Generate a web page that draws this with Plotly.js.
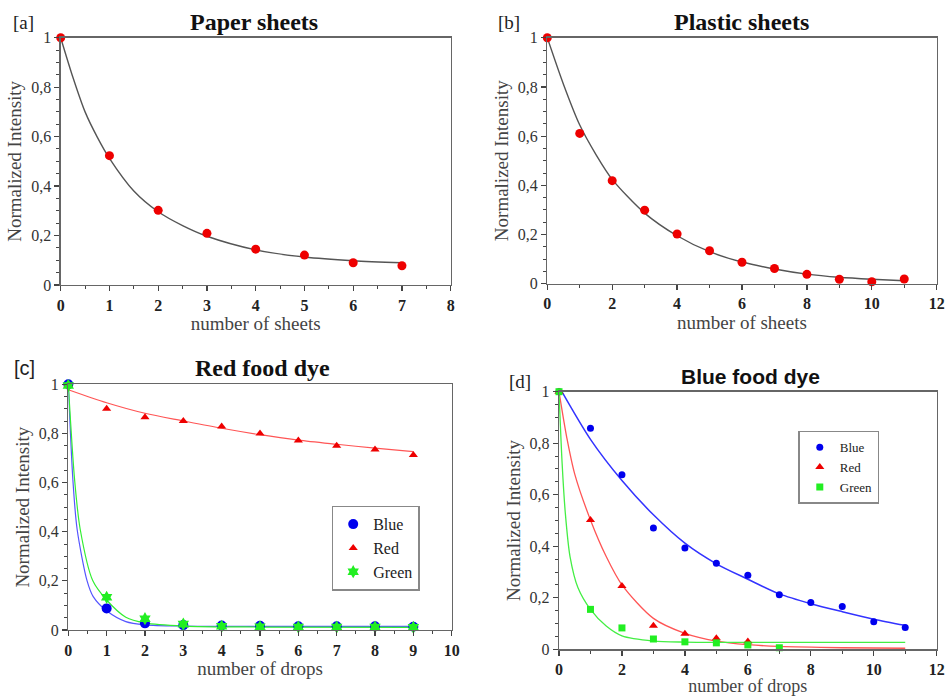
<!DOCTYPE html>
<html>
<head>
<meta charset="utf-8">
<script src="https://cdn.plot.ly/plotly-3.0.1.min.js"></script>
<style>html,body{margin:0;padding:0;background:#fff;}#chart{width:945px;height:696px;}</style>
</head>
<body>
<div id="chart"></div>
<script>
// ---------- data ----------
const panelTitles = ["Paper sheets", "Plastic sheets", "Red food dye", "Blue food dye"];
const panelLabels = ["[a]", "[b]", "[c]", "[d]"];
const seriesNames = ["Blue", "Red", "Green"];

// [a] paper sheets
const paperSheets = [0, 1, 2, 3, 4, 5, 6, 7];
const paperIntensity = [1, 0.523, 0.302, 0.209, 0.145, 0.121, 0.090, 0.078];
const paperFitX = [0, 0.25, 0.5, 0.75, 1, 1.5, 2, 2.5, 3, 4, 5, 6, 7];
const paperFitY = [1, 0.84, 0.70, 0.598, 0.512, 0.38, 0.296, 0.24, 0.197, 0.142, 0.113, 0.098, 0.09];

// [b] plastic sheets
const plasticSheets = [0, 1, 2, 3, 4, 5, 6, 7, 8, 9, 10, 11];
const plasticIntensity = [1, 0.611, 0.419, 0.299, 0.202, 0.134, 0.087, 0.062, 0.038, 0.018, 0.008, 0.019];
const plasticFitX = [0, 0.5, 1, 1.5, 2, 3, 4, 5, 6, 7, 8, 9, 10, 11];
const plasticFitY = [1, 0.81, 0.645, 0.525, 0.424, 0.287, 0.195, 0.13, 0.088, 0.06, 0.039, 0.026, 0.018, 0.012];

// [c] red food dye
const redDyeDrops = [0, 1, 2, 3, 4, 5, 6, 7, 8, 9];
const redDyeBlue = [1, 0.088, 0.027, 0.020, 0.018, 0.017, 0.015, 0.015, 0.015, 0.013];
const redDyeRed = [1, 0.900, 0.866, 0.851, 0.828, 0.800, 0.771, 0.750, 0.735, 0.712];
const redDyeGreen = [0.995, 0.133, 0.046, 0.024, 0.015, 0.013, 0.012, 0.012, 0.012, 0.011];
const redDyeBlueFitX = [0, 0.12, 0.23, 0.49, 0.65, 1, 1.5, 2, 3, 5, 9];
const redDyeBlueFitY = [1, 0.61, 0.41, 0.2, 0.136, 0.078, 0.034, 0.021, 0.016, 0.015, 0.015];
const redDyeRedFitX = [0, 1, 2, 3, 4, 5, 6, 7, 8, 9];
const redDyeRedFitY = [0.978, 0.925, 0.882, 0.851, 0.821, 0.795, 0.773, 0.756, 0.740, 0.726];
const redDyeGreenFitX = [0, 0.165, 0.31, 0.64, 1, 1.5, 2, 3, 5, 9];
const redDyeGreenFitY = [1, 0.61, 0.41, 0.2, 0.122, 0.052, 0.029, 0.016, 0.012, 0.011];

// [d] blue food dye
const blueDyeDrops = [0, 1, 2, 3, 4, 5, 6, 7, 8, 9, 10, 11];
const blueDyeBlue = [1, 0.858, 0.678, 0.471, 0.393, 0.334, 0.287, 0.212, 0.182, 0.166, 0.107, 0.085];
const blueDyeRedDrops = [0, 1, 2, 3, 4, 5, 6];
const blueDyeRed = [1, 0.502, 0.246, 0.091, 0.060, 0.043, 0.030];
const blueDyeGreenDrops = [0, 1, 2, 3, 4, 5, 6, 7];
const blueDyeGreen = [1, 0.155, 0.083, 0.040, 0.029, 0.025, 0.017, 0.006];
const blueDyeBlueFitX = [0, 1, 2, 3, 4, 5, 6, 7, 8, 9, 10, 11];
const blueDyeBlueFitY = [1.02, 0.815, 0.655, 0.522, 0.412, 0.332, 0.272, 0.215, 0.177, 0.146, 0.117, 0.093];
const blueDyeRedFitX = [0, 0.25, 0.5, 1, 1.5, 2, 3, 4, 5, 6, 7, 9, 11];
const blueDyeRedFitY = [1, 0.82, 0.68, 0.502, 0.36, 0.25, 0.12, 0.062, 0.032, 0.018, 0.011, 0.006, 0.004];
const blueDyeGreenFitX = [0, 0.1, 0.2, 0.35, 0.6, 1, 1.5, 2, 3, 4, 6, 11];
const blueDyeGreenFitY = [1, 0.72, 0.53, 0.36, 0.24, 0.155, 0.09, 0.052, 0.032, 0.028, 0.027, 0.027];

const xTicks = {a: [0, 8, 1], b: [0, 12, 2], c: [0, 10, 1], d: [0, 12, 2]};

// ---------- styles ----------
const SERIF = "Liberation Serif, Times New Roman, serif";
const SANS = "Liberation Sans, Arial, sans-serif";
const cRed = "#ee0000", cBlue = "#0000ee", cGreen = "#22ee22";

function xaxisCfg(dom, anchor, t, titleText, tsize, stand) {
  return {
    domain: dom, anchor: anchor, range: [t[0], t[1]], dtick: t[2], tick0: 0,
    showgrid: false, zeroline: false, showline: true, mirror: true,
    linecolor: "#666", linewidth: 1.3,
    ticks: "outside", ticklen: 5, tickwidth: 1.2, tickcolor: "#444",
    minor: {dtick: t[2] / 2, ticks: "outside", ticklen: 3, tickcolor: "#444", tickwidth: 1, showgrid: false},
    tickfont: {family: SERIF, size: 16, color: "#222", weight: "bold"},
    title: {text: titleText, font: {family: SERIF, size: tsize, color: "#444"}, standoff: stand}
  };
}
function yaxisCfg(dom, anchor) {
  return {
    domain: dom, anchor: anchor, range: [0, 1], dtick: 0.2, tick0: 0,
    showgrid: false, zeroline: false, showline: true, mirror: true,
    linecolor: "#666", linewidth: 1.3,
    ticks: "outside", ticklen: 5, tickwidth: 1.2, tickcolor: "#444",
    minor: {dtick: 0.05, ticks: "outside", ticklen: 3, tickcolor: "#444", tickwidth: 1, showgrid: false},
    tickfont: {family: SERIF, size: 16, color: "#333"},
    title: {text: "Normalized Intensity", font: {family: SERIF, size: 19, color: "#444"}, standoff: 4}
  };
}

const traces = [];
function fit(x, y, xa, ya, color, w) {
  traces.push({x: x, y: y, xaxis: xa, yaxis: ya, mode: "lines", showlegend: false, hoverinfo: "skip",
    line: {color: color, width: w, shape: "spline", smoothing: 0.8}, cliponaxis: true});
}
function pts(x, y, xa, ya, marker, name, legend, show) {
  traces.push({x: x, y: y, xaxis: xa, yaxis: ya, mode: "markers", name: name, legend: legend,
    showlegend: show, marker: marker, cliponaxis: false});
}

// [a]
fit(paperFitX, paperFitY, "x", "y", "#555", 1.4);
pts(paperSheets, paperIntensity, "x", "y", {color: cRed, size: 9, symbol: "circle"}, "Paper", "legend", false);
// [b]
fit(plasticFitX, plasticFitY, "x2", "y2", "#555", 1.4);
pts(plasticSheets, plasticIntensity, "x2", "y2", {color: cRed, size: 9, symbol: "circle"}, "Plastic", "legend", false);
// [c]
fit(redDyeRedFitX, redDyeRedFitY, "x3", "y3", "#ff5555", 1.2);
fit(redDyeBlueFitX, redDyeBlueFitY, "x3", "y3", "#5555ff", 1.2);
fit(redDyeGreenFitX, redDyeGreenFitY, "x3", "y3", "#33ee33", 1.2);
pts(redDyeDrops, redDyeBlue, "x3", "y3", {color: cBlue, size: 10, symbol: "circle"}, seriesNames[0], "legend", true);
pts(redDyeDrops, redDyeRed, "x3", "y3", {color: cRed, size: 8, symbol: "triangle-up"}, seriesNames[1], "legend", true);
pts(redDyeDrops, redDyeGreen, "x3", "y3", {color: cGreen, size: 10, symbol: "hexagram"}, seriesNames[2], "legend", true);
// [d]
fit(blueDyeBlueFitX, blueDyeBlueFitY, "x4", "y4", "#3333ff", 1.5);
fit(blueDyeRedFitX, blueDyeRedFitY, "x4", "y4", "#ff5555", 1.3);
fit(blueDyeGreenFitX, blueDyeGreenFitY, "x4", "y4", "#44ee44", 1.3);
pts(blueDyeDrops, blueDyeBlue, "x4", "y4", {color: cBlue, size: 7, symbol: "circle"}, seriesNames[0], "legend2", true);
pts(blueDyeRedDrops, blueDyeRed, "x4", "y4", {color: cRed, size: 8, symbol: "triangle-up"}, seriesNames[1], "legend2", true);
pts(blueDyeGreenDrops, blueDyeGreen, "x4", "y4", {color: cGreen, size: 7, symbol: "square"}, seriesNames[2], "legend2", true);

function ann(text, x, y, font, xanchor) {
  return {text: text, x: x, y: y, xref: "paper", yref: "paper", showarrow: false,
    xanchor: xanchor || "center", yanchor: "middle", font: font};
}
const W = 945, H = 696;
const px = v => v / W, py = v => 1 - v / H;

const layout = {
  width: W, height: H, margin: {l: 0, r: 0, t: 0, b: 0},
  paper_bgcolor: "#fff", plot_bgcolor: "#fff",
  separators: ",.", showlegend: true,
  font: {family: SERIF, color: "#222"},
  xaxis: xaxisCfg([px(60.7), px(450.7)], "y", xTicks.a, "number of sheets", 19, 4),
  yaxis: yaxisCfg([py(285), py(37.7)], "x"),
  xaxis2: xaxisCfg([px(547.3), px(936.7)], "y2", xTicks.b, "number of sheets", 19, 4),
  yaxis2: yaxisCfg([py(283.7), py(37.7)], "x2"),
  xaxis3: xaxisCfg([px(68.3), px(451.7)], "y3", xTicks.c, "number of drops", 19, 4),
  yaxis3: yaxisCfg([py(630), py(384.3)], "x3"),
  xaxis4: xaxisCfg([px(559), px(936.7)], "y4", xTicks.d, "number of drops", 18, 6),
  yaxis4: yaxisCfg([py(649.3), py(391.7)], "x4"),
  legend: {x: px(331.7), y: py(505.7), xanchor: "left", yanchor: "top", bgcolor: "#fff",
    bordercolor: "#888", borderwidth: 1.5, font: {family: SERIF, size: 16, color: "#222"}},
  legend2: {x: px(798.3), y: py(430.7), xanchor: "left", yanchor: "top", bgcolor: "#fff",
    bordercolor: "#888", borderwidth: 1.5, font: {family: SERIF, size: 13, color: "#222"}},
  annotations: [
    ann(panelTitles[0], px(254), py(22), {family: SERIF, size: 24, color: "#111", weight: "bold"}),
    ann(panelTitles[1], px(741), py(22), {family: SERIF, size: 24, color: "#111", weight: "bold"}),
    ann(panelTitles[2], px(262), py(368), {family: SERIF, size: 24, color: "#111", weight: "bold"}),
    ann(panelTitles[3], px(750), py(376), {family: SANS, size: 21, color: "#111", weight: "bold"}),
    ann(panelLabels[0], px(11), py(22), {family: SERIF, size: 19, color: "#222"}, "left"),
    ann(panelLabels[1], px(496), py(22), {family: SERIF, size: 19, color: "#222"}, "left"),
    ann(panelLabels[2], px(12), py(368), {family: SANS, size: 20, color: "#222"}, "left"),
    ann(panelLabels[3], px(507), py(381), {family: SERIF, size: 19, color: "#222"}, "left")
  ]
};

Plotly.newPlot("chart", traces, layout, {staticPlot: true, displayModeBar: false});
</script>
</body>
</html>
